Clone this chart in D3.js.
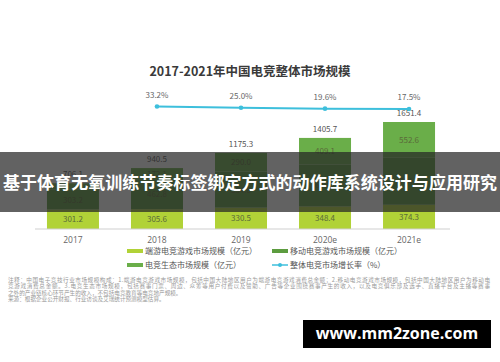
<!DOCTYPE html>
<html>
<head>
<meta charset="utf-8">
<script src="https://cdn.jsdelivr.net/npm/d3@7"></script>
<style>
  body { margin: 0; background: #fff; }
  svg { display: block; font-family: "Noto Sans CJK SC", "Noto Sans", sans-serif; }
</style>
</head>
<body>
<div id="chart"></div>
<script>
var years = ["2017", "2018", "2019", "2020e", "2021e"];
var clientGame = [301.2, 305.6, 330.5, 348.4, 374.3];
var mobileGame = [303.2, 462.8, 554.8, 648.2, 724.5];
var ecosystem = [101.7, 172.1, 290.0, 409.1, 552.6];
var totals = [706.1, 940.5, 1175.3, 1405.7, 1651.4];
var growthYears = ["2018", "2019", "2020e", "2021e"];
var growth = [33.2, 25.0, 19.6, 17.5];
var seriesNames = ["端游电竞游戏市场规模（亿元）", "移动电竞游戏市场规模（亿元）", "电竞生态市场规模（亿元）", "整体电竞市场增长率（%）"];

var svgWidth = 500;
var svgHeight = 362;
var colors = ["#b1d237", "#5c9c3f", "#6aae49"];
var lineColor = "#3dbfdc";

var svg = d3.select("#chart")
  .append("svg")
  .attr("width", svgWidth)
  .attr("height", svgHeight);

svg.append("rect").attr("width", svgWidth).attr("height", svgHeight).attr("fill", "#fff");

// title
svg.append("text")
  .attr("x", 250)
  .attr("y", 76)
  .attr("text-anchor", "middle")
  .attr("font-size", "12.5px")
  .attr("font-weight", "bold")
  .attr("fill", "#3a3a3a")
  .text("2017-2021年中国电竞整体市场规模");

var x = d3.scaleBand()
  .domain(years)
  .range([31, 451])
  .paddingInner(0.381)
  .paddingOuter(0.19);

var y = d3.scaleLinear()
  .domain([0, 1651.4])
  .range([229, 122]);

// stack the three segments
var rows = years.map(function(yr, i) {
  return { year: yr, a: clientGame[i], b: mobileGame[i], c: ecosystem[i] };
});
var stack = d3.stack().keys(["a", "b", "c"])(rows);

var layers = svg.append("g").selectAll("g")
  .data(stack)
  .enter()
  .append("g")
  .attr("fill", (d, i) => colors[i]);

layers.selectAll("rect")
  .data(d => d)
  .enter()
  .append("rect")
  .attr("x", d => x(d.data.year))
  .attr("y", d => y(d[1]))
  .attr("width", x.bandwidth())
  .attr("height", d => y(d[0]) - y(d[1]));

// segment labels, skipped where the segment is too thin to hold one
layers.selectAll("text")
  .data(d => d.map(v => ({ v: v, key: d.key })).filter(d => y(d.v[0]) - y(d.v[1]) > 10))
  .enter()
  .append("text")
  .attr("x", d => x(d.v.data.year) + x.bandwidth() / 2)
  .attr("y", d => (y(d.v[0]) + y(d.v[1])) / 2 + 3)
  .attr("text-anchor", "middle")
  .attr("font-size", "8px")
  .attr("fill", "#5a6a3a")
  .text(d => d.v.data[d.key].toFixed(1));

// totals
svg.append("g").selectAll("text")
  .data(totals)
  .enter()
  .append("text")
  .attr("x", (d, i) => x(years[i]) + x.bandwidth() / 2)
  .attr("y", d => y(d) - 6)
  .attr("text-anchor", "middle")
  .attr("font-size", "8px")
  .attr("fill", "#555")
  .text(d => d.toFixed(1));

// axis
var xAxis = svg.append("g")
  .attr("transform", "translate(0,229)")
  .call(d3.axisBottom(x).tickSize(0).tickPadding(8));
xAxis.select(".domain").attr("stroke", "#cfcfcf").attr("d", "M35,0H450");
xAxis.selectAll("text").attr("font-size", "8.5px").attr("fill", "#666")
  .attr("font-family", "'Open Sans', sans-serif");

// growth line
var yg = d3.scaleLinear().domain([17.5, 33.2]).range([109, 106.5]);
var line = d3.line()
  .x((d, i) => x(growthYears[i]) + x.bandwidth() / 2)
  .y(d => yg(d));

svg.append("path")
  .datum(growth)
  .attr("d", line)
  .attr("fill", "none")
  .attr("stroke", lineColor)
  .attr("stroke-width", 2);

svg.append("g").selectAll("circle")
  .data(growth)
  .enter()
  .append("circle")
  .attr("cx", (d, i) => x(growthYears[i]) + x.bandwidth() / 2)
  .attr("cy", d => yg(d))
  .attr("r", 2.3)
  .attr("fill", lineColor);

svg.append("g").selectAll("text")
  .data(growth)
  .enter()
  .append("text")
  .attr("x", (d, i) => x(growthYears[i]) + x.bandwidth() / 2)
  .attr("y", d => yg(d) - 9)
  .attr("text-anchor", "middle")
  .attr("font-size", "8px")
  .attr("fill", "#666")
  .text(d => d.toFixed(1) + "%");

// legend
var legendPos = [[127, 253], [272, 253], [127, 267], [272, 267]];
var legend = svg.append("g").selectAll("g")
  .data(seriesNames)
  .enter()
  .append("g")
  .attr("transform", (d, i) => `translate(${legendPos[i][0]},${legendPos[i][1]})`);

legend.each(function(d, i) {
  var g = d3.select(this);
  if (i < 3) {
    g.append("rect").attr("x", 0).attr("y", -4).attr("width", 16).attr("height", 4).attr("fill", colors[i]);
  } else {
    g.append("line").attr("x1", 0).attr("x2", 16).attr("y1", -2).attr("y2", -2)
      .attr("stroke", lineColor).attr("stroke-width", 1.5);
    g.append("circle").attr("cx", 8).attr("cy", -2).attr("r", 2).attr("fill", lineColor);
  }
  g.append("text").attr("x", 18).attr("y", 1)
    .attr("font-size", "8px").attr("fill", "#555").text(d);
});

// notes
var notes = [
  "注释：中国电子竞技行业市场规模构成：1.端游电竞游戏市场规模，包括中国大陆地区用户为端游电竞游戏消费总金额；2.移动电竞游戏市场规模，包括中国大陆地区用户为移动电",
  "竞游戏消费总金额。3.电竞生态市场规模，包括赛事门票、周边、众筹等用户付费以及赞助、广告等企业围绕赛事产生的收入，以及电竞俱乐部及选手、直播平台及主播等赛事",
  "之外的产业链核心环节产生的收入，不包括电竞教育等电竞地产规模。",
  "来源：根据企业公开财报、行业访谈及艾瑞统计预测模型估算。"
];
svg.append("g").selectAll("text")
  .data(notes)
  .enter()
  .append("text")
  .attr("x", 8)
  .attr("y", (d, i) => 282 + i * 6.3)
  .attr("font-size", "5.6px")
  .attr("fill", "#999")
  .attr("textLength", (d, i) => i < 2 ? 482 : null)
  .text(d => d);

// overlay banner
svg.append("rect")
  .attr("x", 0).attr("y", 152)
  .attr("width", 500).attr("height", 60)
  .attr("fill", "rgba(38,38,38,0.72)");
svg.append("text")
  .attr("x", 250).attr("y", 189)
  .attr("text-anchor", "middle")
  .attr("font-size", "17px")
  .attr("font-weight", "bold")
  .attr("fill", "#fff")
  .attr("textLength", 494)
  .text("基于体育无氧训练节奏标签绑定方式的动作库系统设计与应用研究");

// watermark
svg.append("rect")
  .attr("x", 303).attr("y", 320)
  .attr("width", 188).attr("height", 28)
  .attr("fill", "#000");
svg.append("text")
  .attr("x", 397).attr("y", 339)
  .attr("text-anchor", "middle")
  .attr("font-size", "16px")
  .attr("font-weight", "bold")
  .attr("font-family", "'Open Sans', 'DejaVu Sans', sans-serif")
  .attr("fill", "#fff")
  .text("www.mm2zone.com");
</script>
</body>
</html>
